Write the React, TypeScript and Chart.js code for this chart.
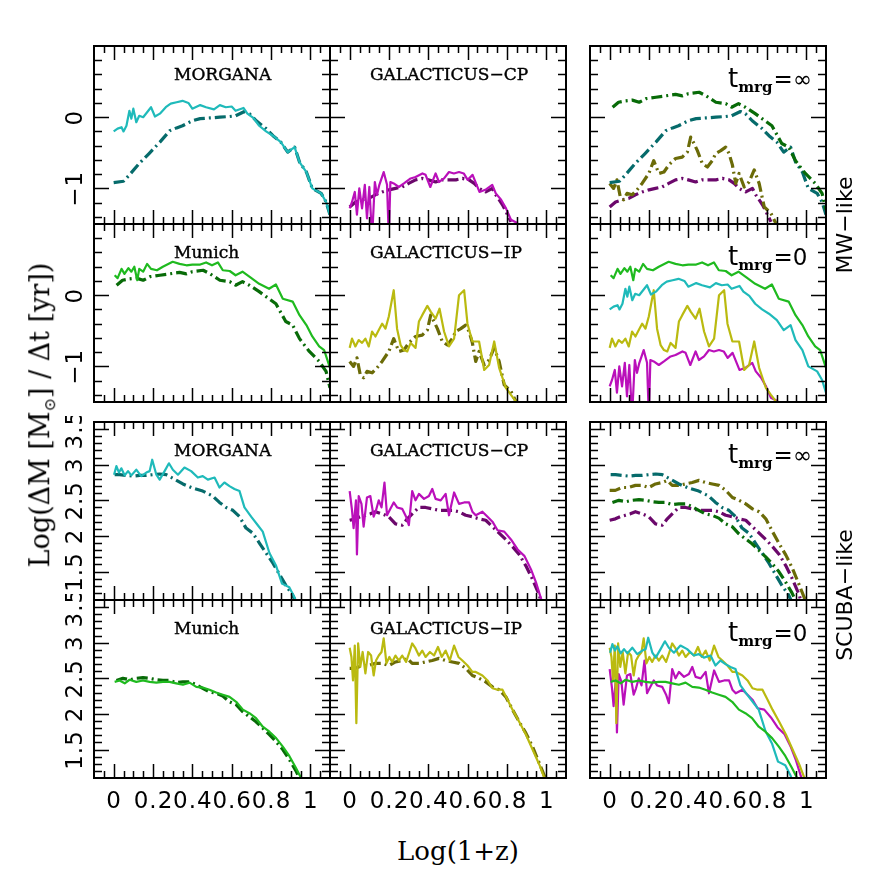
import React, { useEffect, useRef } from 'react';
import { Chart, registerables } from 'chart.js';
Chart.register(...registerables);

type P = [number, number];

// ---------- axis ranges & tick labels ----------
const X_RANGE: P = [-0.1, 1.1];
const MW_RANGE: P = [-1.5, 1];
const SC_RANGE: P = [1.1, 3.6];
const xTickValues = [0, 0.2, 0.4, 0.6, 0.8, 1];
const xTickLabels = ['0', '0.2', '0.4', '0.6', '0.8', '1'];
const mwTickValues = [-1, 0];
const mwTickLabels = ['\u22121', '0'];
const scTickValues = [1.5, 2, 2.5, 3, 3.5];
const scTickLabels = ['1.5', '2', '2.5', '3', '3.5'];

// ---------- MW-like series ----------
const mwMorgana0: P[] = [[0,-0.20],[0.02,-0.16],[0.04,-0.14],[0.05,-0.20],[0.065,-0.12],[0.08,0.09],[0.09,-0.02],[0.10,0.12],[0.115,-0.07],[0.13,0.02],[0.15,0.0],[0.17,0.07],[0.19,0.14],[0.21,0.01],[0.235,0.05],[0.265,0.14],[0.29,0.19],[0.32,0.21],[0.35,0.23],[0.38,0.20],[0.40,0.12],[0.44,0.17],[0.47,0.14],[0.51,0.11],[0.54,0.17],[0.57,0.14],[0.60,0.15],[0.62,0.09],[0.66,0.13],[0.68,0.05],[0.71,-0.01],[0.74,-0.12],[0.775,-0.20],[0.81,-0.26],[0.85,-0.35],[0.885,-0.49],[0.92,-0.42],[0.945,-0.63],[0.98,-0.77],[1.01,-1.0],[1.055,-1.07],[1.08,-1.19],[1.1,-1.37]];
const mwMorganaInf: P[] = [[0,-0.92],[0.05,-0.90],[0.08,-0.81],[0.13,-0.65],[0.18,-0.51],[0.235,-0.35],[0.285,-0.19],[0.32,-0.15],[0.35,-0.12],[0.40,-0.05],[0.44,-0.02],[0.49,-0.01],[0.54,0.0],[0.59,0.01],[0.62,0.02],[0.665,0.08],[0.69,0.05],[0.725,-0.05],[0.775,-0.16],[0.81,-0.26],[0.85,-0.35],[0.885,-0.49],[0.92,-0.42],[0.945,-0.63],[0.98,-0.77],[1.01,-1.0],[1.055,-1.07],[1.08,-1.19],[1.1,-1.37]];
const mwMunich0: P[] = [[0.005,0.28],[0.02,0.24],[0.04,0.37],[0.055,0.30],[0.075,0.38],[0.09,0.33],[0.105,0.40],[0.12,0.21],[0.13,0.37],[0.15,0.33],[0.17,0.44],[0.19,0.37],[0.22,0.35],[0.25,0.40],[0.30,0.47],[0.335,0.44],[0.37,0.42],[0.40,0.43],[0.44,0.43],[0.47,0.46],[0.50,0.42],[0.53,0.46],[0.555,0.35],[0.59,0.34],[0.62,0.28],[0.655,0.33],[0.69,0.26],[0.74,0.16],[0.79,0.09],[0.825,0.15],[0.86,-0.05],[0.91,-0.09],[0.945,-0.28],[0.98,-0.42],[1.01,-0.58],[1.045,-0.72],[1.07,-0.77],[1.1,-1.02]];
const mwMunichInf: P[] = [[0.015,0.14],[0.045,0.21],[0.08,0.23],[0.115,0.24],[0.15,0.21],[0.185,0.26],[0.235,0.28],[0.285,0.30],[0.335,0.32],[0.37,0.30],[0.40,0.33],[0.455,0.35],[0.49,0.30],[0.54,0.21],[0.59,0.19],[0.62,0.14],[0.655,0.19],[0.69,0.14],[0.74,0.05],[0.79,-0.05],[0.825,-0.12],[0.875,-0.37],[0.91,-0.42],[0.945,-0.61],[0.995,-0.79],[1.045,-0.93],[1.08,-1.07],[1.1,-1.30]];
const mwGalcp0: P[] = [[0,-1.28],[0.012,-1.19],[0.026,-1.05],[0.037,-1.37],[0.049,-1.0],[0.063,-1.28],[0.077,-0.95],[0.088,-1.42],[0.10,-0.98],[0.114,-1.7],[0.128,-0.91],[0.139,-1.09],[0.151,-0.95],[0.173,-0.77],[0.19,-0.95],[0.199,-1.7],[0.207,-0.91],[0.224,-0.93],[0.25,-0.98],[0.276,-0.93],[0.31,-0.86],[0.335,-0.84],[0.37,-0.79],[0.386,-0.81],[0.41,-0.98],[0.437,-0.79],[0.454,-0.91],[0.48,-0.86],[0.505,-0.77],[0.53,-0.79],[0.556,-0.77],[0.58,-0.79],[0.60,-0.88],[0.625,-0.81],[0.66,-1.05],[0.69,-1.02],[0.725,-0.95],[0.743,-1.07],[0.77,-1.16],[0.795,-1.28],[0.82,-1.44],[0.855,-1.49]];
const mwGalcpInf: P[] = [[0,-1.26],[0.03,-1.19],[0.063,-1.16],[0.097,-1.14],[0.131,-1.09],[0.165,-1.05],[0.2,-1.02],[0.233,-1.0],[0.267,-0.98],[0.30,-0.93],[0.335,-0.88],[0.37,-0.86],[0.40,-0.88],[0.437,-0.91],[0.47,-0.88],[0.505,-0.88],[0.54,-0.88],[0.573,-0.86],[0.607,-0.88],[0.633,-0.93],[0.658,-1.0],[0.692,-1.05],[0.726,-1.0],[0.743,-1.09],[0.777,-1.23],[0.803,-1.37],[0.82,-1.47]];
const mwGalip0: P[] = [[0,-0.74],[0.012,-0.61],[0.029,-0.72],[0.046,-0.63],[0.063,-0.67],[0.08,-0.61],[0.097,-0.72],[0.114,-0.51],[0.131,-0.58],[0.148,-0.49],[0.165,-0.40],[0.182,-0.47],[0.199,-0.30],[0.224,0.07],[0.241,-0.47],[0.259,-0.70],[0.276,-0.77],[0.293,-0.79],[0.31,-0.67],[0.335,-0.74],[0.352,-0.37],[0.369,-0.28],[0.395,-0.15],[0.412,-0.23],[0.437,-0.33],[0.457,-0.19],[0.48,-0.51],[0.505,-0.72],[0.531,-0.61],[0.556,0.0],[0.582,0.07],[0.599,-0.40],[0.624,-0.65],[0.658,-0.65],[0.684,-1.05],[0.709,-0.98],[0.735,-0.65],[0.76,-1.02],[0.794,-1.30],[0.82,-1.40],[0.845,-1.49]];
const mwGalipInf: P[] = [[0,-0.93],[0.02,-1.0],[0.037,-0.88],[0.054,-1.12],[0.071,-1.16],[0.088,-1.07],[0.114,-1.09],[0.139,-1.02],[0.165,-0.93],[0.199,-0.79],[0.224,-0.61],[0.25,-0.79],[0.276,-0.77],[0.301,-0.67],[0.335,-0.58],[0.369,-0.56],[0.395,-0.49],[0.412,-0.28],[0.429,-0.37],[0.446,-0.47],[0.471,-0.65],[0.497,-0.70],[0.522,-0.61],[0.539,-0.51],[0.565,-0.47],[0.59,-0.42],[0.607,-0.51],[0.624,-0.67],[0.641,-0.93],[0.658,-0.79],[0.684,-0.98],[0.709,-0.91],[0.735,-0.74],[0.76,-0.93],[0.786,-1.26],[0.82,-1.35],[0.845,-1.49]];

// ---------- SCUBA-like series ----------
const scMorgana0: P[] = [[0.002,2.86],[0.014,2.98],[0.027,2.89],[0.039,2.95],[0.056,2.85],[0.073,2.91],[0.09,2.85],[0.115,2.93],[0.14,2.84],[0.166,2.89],[0.183,2.91],[0.196,3.07],[0.217,2.86],[0.234,2.79],[0.259,2.91],[0.281,3.02],[0.301,2.93],[0.327,2.86],[0.36,2.96],[0.394,2.91],[0.428,2.82],[0.453,2.84],[0.479,2.79],[0.513,2.82],[0.538,2.68],[0.563,2.75],[0.589,2.70],[0.614,2.66],[0.64,2.63],[0.665,2.40],[0.699,2.27],[0.733,2.15],[0.758,2.06],[0.792,1.76],[0.826,1.58],[0.856,1.33],[0.893,1.28],[0.919,1.14],[0.93,1.05]];
const scMorganaInf: P[] = [[0.005,2.86],[0.03,2.86],[0.064,2.85],[0.098,2.84],[0.132,2.85],[0.166,2.85],[0.2,2.86],[0.234,2.87],[0.267,2.86],[0.301,2.81],[0.352,2.73],[0.403,2.67],[0.453,2.63],[0.504,2.56],[0.538,2.47],[0.572,2.40],[0.606,2.36],[0.64,2.27],[0.673,2.11],[0.707,2.04],[0.741,1.90],[0.775,1.76],[0.809,1.62],[0.843,1.46],[0.877,1.30],[0.91,1.17],[0.93,1.05]];
const scMunich0: P[] = [[0.005,2.45],[0.03,2.47],[0.056,2.43],[0.081,2.48],[0.115,2.45],[0.149,2.47],[0.183,2.45],[0.217,2.44],[0.25,2.45],[0.284,2.45],[0.318,2.43],[0.352,2.41],[0.386,2.44],[0.42,2.38],[0.453,2.37],[0.487,2.34],[0.521,2.30],[0.555,2.27],[0.589,2.24],[0.623,2.17],[0.657,2.06],[0.69,2.01],[0.724,1.94],[0.758,1.82],[0.792,1.75],[0.826,1.66],[0.86,1.54],[0.893,1.41],[0.927,1.24],[0.953,1.10],[0.96,1.05]];
const scMunichInf: P[] = [[0.014,2.47],[0.047,2.50],[0.081,2.48],[0.115,2.50],[0.149,2.51],[0.183,2.50],[0.217,2.48],[0.25,2.47],[0.284,2.47],[0.318,2.44],[0.352,2.45],[0.386,2.45],[0.42,2.41],[0.453,2.36],[0.487,2.31],[0.521,2.29],[0.555,2.25],[0.589,2.17],[0.623,2.13],[0.657,2.03],[0.69,1.96],[0.724,1.89],[0.758,1.80],[0.792,1.71],[0.826,1.61],[0.86,1.50],[0.893,1.36],[0.927,1.20],[0.944,1.10],[0.95,1.05]];
const scGalcp0: P[] = [[0,2.63],[0.012,2.36],[0.02,2.11],[0.032,2.50],[0.037,1.74],[0.046,2.56],[0.06,2.45],[0.071,2.13],[0.088,2.54],[0.105,2.56],[0.122,2.27],[0.134,2.36],[0.148,2.50],[0.162,2.40],[0.177,2.75],[0.19,2.29],[0.207,2.38],[0.224,2.47],[0.241,2.40],[0.267,2.38],[0.287,2.27],[0.301,2.15],[0.318,2.63],[0.335,2.50],[0.352,2.59],[0.378,2.52],[0.403,2.56],[0.42,2.66],[0.437,2.52],[0.463,2.50],[0.488,2.59],[0.505,2.29],[0.531,2.61],[0.556,2.45],[0.582,2.47],[0.607,2.47],[0.624,2.34],[0.641,2.29],[0.675,2.34],[0.701,2.27],[0.726,2.20],[0.752,2.08],[0.786,2.06],[0.82,1.95],[0.854,1.81],[0.888,1.72],[0.922,1.53],[0.947,1.35],[0.973,1.12],[0.98,1.05]];
const scGalcpInf: P[] = [[0,2.22],[0.029,2.24],[0.054,2.27],[0.08,2.29],[0.105,2.31],[0.131,2.34],[0.165,2.31],[0.199,2.27],[0.233,2.17],[0.267,2.15],[0.293,2.24],[0.318,2.31],[0.352,2.40],[0.386,2.40],[0.42,2.38],[0.454,2.36],[0.488,2.36],[0.522,2.36],[0.556,2.34],[0.59,2.29],[0.624,2.27],[0.658,2.24],[0.692,2.22],[0.726,2.13],[0.76,2.04],[0.794,1.95],[0.828,1.85],[0.862,1.74],[0.896,1.58],[0.93,1.39],[0.964,1.17],[0.975,1.05]];
const scGalip0: P[] = [[0,2.93],[0.009,2.80],[0.017,2.47],[0.026,2.96],[0.034,1.87],[0.043,2.99],[0.054,2.66],[0.066,2.87],[0.08,2.57],[0.094,2.87],[0.109,2.82],[0.122,2.54],[0.134,2.75],[0.148,2.82],[0.162,2.87],[0.173,3.06],[0.187,2.71],[0.202,2.80],[0.216,2.73],[0.233,2.82],[0.25,2.75],[0.267,2.82],[0.287,2.73],[0.304,2.87],[0.318,2.99],[0.335,2.92],[0.352,2.82],[0.369,2.89],[0.386,2.80],[0.408,2.87],[0.429,2.82],[0.449,2.94],[0.468,2.80],[0.488,2.89],[0.509,2.75],[0.531,2.96],[0.553,2.80],[0.573,2.75],[0.599,2.68],[0.624,2.59],[0.641,2.59],[0.675,2.54],[0.701,2.47],[0.726,2.36],[0.752,2.34],[0.777,2.34],[0.803,2.20],[0.828,2.06],[0.862,1.89],[0.896,1.71],[0.93,1.50],[0.964,1.29],[0.99,1.10],[0.995,1.05]];
const scGalipInf: P[] = [[0,2.64],[0.029,2.64],[0.063,2.68],[0.097,2.68],[0.131,2.71],[0.165,2.71],[0.199,2.68],[0.233,2.73],[0.267,2.75],[0.293,2.78],[0.318,2.71],[0.352,2.71],[0.386,2.73],[0.42,2.75],[0.454,2.78],[0.488,2.75],[0.522,2.73],[0.556,2.71],[0.59,2.64],[0.624,2.54],[0.658,2.50],[0.692,2.45],[0.726,2.38],[0.76,2.34],[0.794,2.24],[0.828,2.06],[0.862,1.89],[0.896,1.73],[0.93,1.54],[0.964,1.31],[0.99,1.13],[0.995,1.05]];

// ---------- colours ----------
const COL = {
  cyan: '#1fbaba', teal: '#066b6b',
  green: '#1fba1f', dgreen: '#086b08',
  magenta: '#ba10ba', purple: '#6b086b',
  yellow: '#baba10', olive: '#6b6b08',
};

type S = { data: P[]; color: string; dash: boolean };
const solid = (data: P[], color: string): S => ({ data, color, dash: false });
const dashd = (data: P[], color: string): S => ({ data, color, dash: true });

type Title = { kind: 'text'; text: string; dx: number; dy: number } | { kind: 'tmrg'; sym: string; dx: number; dy: number };

type Spec = { row: number; col: number; series: S[]; title: Title };

const specs: Spec[] = [
  { row: 0, col: 0, title: { kind: 'text', text: 'MORGANA', dx: 80, dy: 34 }, series: [solid(mwMorgana0, COL.cyan), dashd(mwMorganaInf, COL.teal)] },
  { row: 0, col: 1, title: { kind: 'text', text: 'GALACTICUS\u2212CP', dx: 40, dy: 34 }, series: [solid(mwGalcp0, COL.magenta), dashd(mwGalcpInf, COL.purple)] },
  { row: 0, col: 2, title: { kind: 'tmrg', sym: '\u221e', dx: 138, dy: 41 }, series: [dashd(mwMunichInf, COL.dgreen), dashd(mwMorganaInf, COL.teal), dashd(mwGalipInf, COL.olive), dashd(mwGalcpInf, COL.purple)] },
  { row: 1, col: 0, title: { kind: 'text', text: 'Munich', dx: 80, dy: 34 }, series: [solid(mwMunich0, COL.green), dashd(mwMunichInf, COL.dgreen)] },
  { row: 1, col: 1, title: { kind: 'text', text: 'GALACTICUS\u2212IP', dx: 40, dy: 34 }, series: [solid(mwGalip0, COL.yellow), dashd(mwGalipInf, COL.olive)] },
  { row: 1, col: 2, title: { kind: 'tmrg', sym: '0', dx: 138, dy: 41 }, series: [solid(mwMunich0, COL.green), solid(mwMorgana0, COL.cyan), solid(mwGalip0, COL.yellow), solid(mwGalcp0, COL.magenta)] },
  { row: 2, col: 0, title: { kind: 'text', text: 'MORGANA', dx: 80, dy: 34 }, series: [solid(scMorgana0, COL.cyan), dashd(scMorganaInf, COL.teal)] },
  { row: 2, col: 1, title: { kind: 'text', text: 'GALACTICUS\u2212CP', dx: 40, dy: 34 }, series: [solid(scGalcp0, COL.magenta), dashd(scGalcpInf, COL.purple)] },
  { row: 2, col: 2, title: { kind: 'tmrg', sym: '\u221e', dx: 138, dy: 41 }, series: [dashd(scMunichInf, COL.dgreen), dashd(scMorganaInf, COL.teal), dashd(scGalipInf, COL.olive), dashd(scGalcpInf, COL.purple)] },
  { row: 3, col: 0, title: { kind: 'text', text: 'Munich', dx: 80, dy: 34 }, series: [solid(scMunich0, COL.green), dashd(scMunichInf, COL.dgreen)] },
  { row: 3, col: 1, title: { kind: 'text', text: 'GALACTICUS\u2212IP', dx: 40, dy: 34 }, series: [solid(scGalip0, COL.yellow), dashd(scGalipInf, COL.olive)] },
  { row: 3, col: 2, title: { kind: 'tmrg', sym: '0', dx: 138, dy: 41 }, series: [solid(scMunich0, COL.green), solid(scMorgana0, COL.cyan), solid(scGalip0, COL.yellow), solid(scGalcp0, COL.magenta)] },
];

// ---------- layout ----------
const COL_LEFT = [94, 330, 590];
const ROW_TOP = [46, 224, 422, 600];
const PW = 236;
const PH = 178;

const decorPlugin = {
  id: 'panelDecor',
  afterDraw(chart: any) {
    const o = chart.options.plugins.panelDecor;
    const { ctx, chartArea: a } = chart;
    const xs = chart.scales.x;
    const ys = chart.scales.y;
    ctx.save();
    ctx.strokeStyle = '#000';
    ctx.fillStyle = '#000';
    ctx.lineWidth = 1.5;
    ctx.beginPath();
    // x ticks every 0.05, major every 0.2
    for (let k = -3; k <= 23; k++) {
      const v = k * 0.05;
      if (v <= xs.min + 1e-6 || v >= xs.max - 1e-6) continue;
      const px = Math.round(xs.getPixelForValue(v)) + 0.5;
      const len = k % 4 === 0 ? 14 : 7;
      ctx.moveTo(px, a.bottom); ctx.lineTo(px, a.bottom - len);
      ctx.moveTo(px, a.top); ctx.lineTo(px, a.top + len);
    }
    // y ticks
    const step = o.scuba ? 0.1 : 0.2;
    const per = 5;
    for (let k = -20; k <= 40; k++) {
      const v = k * step;
      if (v <= ys.min + 1e-6 || v >= ys.max - 1e-6) continue;
      const py = Math.round(ys.getPixelForValue(v)) + 0.5;
      const len = k % per === 0 ? 15 : 8;
      ctx.moveTo(a.left, py); ctx.lineTo(a.left + len, py);
      ctx.moveTo(a.right, py); ctx.lineTo(a.right - len, py);
    }
    ctx.stroke();
    ctx.lineWidth = 2;
    ctx.strokeRect(a.left, a.top, a.right - a.left, a.bottom - a.top);

    // x tick labels
    if (o.xLabels) {
      ctx.font = '23px "DejaVu Sans"';
      ctx.letterSpacing = '1px';
      ctx.textAlign = 'center';
      ctx.textBaseline = 'alphabetic';
      xTickValues.forEach((v, i) => {
        ctx.fillText(xTickLabels[i], xs.getPixelForValue(v) + 0.5, a.bottom + 30);
      });
    }
    // y tick labels (rotated)
    if (o.yLabels) {
      const vals = o.scuba ? scTickValues : mwTickValues;
      const labs = o.scuba ? scTickLabels : mwTickLabels;
      ctx.font = '23px "DejaVu Sans"';
      ctx.letterSpacing = '1px';
      ctx.textAlign = 'center';
      ctx.textBaseline = 'alphabetic';
      vals.forEach((v: number, i: number) => {
        const py = ys.getPixelForValue(v);
        ctx.save();
        ctx.translate(a.left - 12, py + 0.5);
        ctx.rotate(-Math.PI / 2);
        ctx.fillText(labs[i], 0, 0);
        ctx.restore();
      });
    }
    ctx.letterSpacing = '0px';
    // title
    const t = o.title as Title;
    ctx.textAlign = 'left';
    ctx.textBaseline = 'alphabetic';
    if (t.kind === 'text') {
      ctx.font = '17px "DejaVu Serif"';
      ctx.lineWidth = 0.4;
      ctx.fillText(t.text, a.left + t.dx, a.top + t.dy);
      ctx.strokeText(t.text, a.left + t.dx, a.top + t.dy);
    } else {
      let x = a.left + t.dx;
      const y = a.top + t.dy;
      ctx.font = '26px "DejaVu Sans"';
      ctx.fillText('t', x, y);
      x += ctx.measureText('t').width;
      ctx.font = 'bold 15px "DejaVu Serif"';
      ctx.fillText('mrg', x, y + 5);
      x += ctx.measureText('mrg').width + 1;
      ctx.font = '23px "DejaVu Sans"';
      ctx.fillText('=' + t.sym, x, y);
    }
    ctx.restore();
  },
};

function Panel({ spec }: { spec: Spec }) {
  const ref = useRef<HTMLCanvasElement>(null);
  const padL = spec.col === 0 ? 60 : 6;
  const padR = 6;
  const padT = 6;
  const padB = spec.row === 3 ? 50 : 6;
  const W = PW + padL + padR;
  const H = PH + padT + padB;
  const scuba = spec.row >= 2;
  useEffect(() => {
    const range = scuba ? SC_RANGE : MW_RANGE;
    const chart = new Chart(ref.current as HTMLCanvasElement, {
      type: 'line',
      data: {
        datasets: spec.series.map((s) => ({
          data: s.data.map(([x, y]) => ({ x, y })),
          borderColor: s.color,
          borderWidth: s.dash ? 3.2 : 2.2,
          borderDash: s.dash ? [11, 4, 2, 4] : [],
          pointRadius: 0,
          tension: 0,
          fill: false,
          borderJoinStyle: 'round' as const,
        })),
      },
      options: {
        responsive: false,
        animation: false,
        layout: { padding: { left: padL, right: padR, top: padT, bottom: padB } },
        scales: {
          x: { type: 'linear', min: X_RANGE[0], max: X_RANGE[1], display: false },
          y: { type: 'linear', min: range[0], max: range[1], display: false },
        },
        plugins: {
          legend: { display: false },
          tooltip: { enabled: false },
          panelDecor: { scuba, xLabels: spec.row === 3, yLabels: spec.col === 0, title: spec.title },
        } as any,
      },
      plugins: [decorPlugin],
    });
    return () => chart.destroy();
  }, []);
  return (
    <canvas
      ref={ref}
      width={W}
      height={H}
      style={{ position: 'absolute', left: COL_LEFT[spec.col] - padL, top: ROW_TOP[spec.row] - padT, width: W, height: H }}
    />
  );
}

const rot: React.CSSProperties = { position: 'absolute', transform: 'translate(-50%, -50%) rotate(-90deg)', whiteSpace: 'nowrap', lineHeight: 1.2, color: '#000' };

export default function App() {
  return (
    <div style={{ position: 'absolute', left: 0, top: 0, width: 872, height: 872, background: '#fff' }}>
      {specs.map((s, i) => (
        <Panel key={i} spec={s} />
      ))}
      <div style={{ ...rot, left: 42, top: 415, fontFamily: '"DejaVu Serif"', fontSize: 27 }}>
        Log(ΔM [M<sub style={{ fontSize: 16 }}>⊙</sub>] / Δt [yr])
      </div>
      <div style={{ position: 'absolute', left: 458, top: 852, transform: 'translate(-50%, -50%)', whiteSpace: 'nowrap', fontFamily: '"DejaVu Serif"', fontSize: 26, lineHeight: 1.2 }}>
        Log(1+z)
      </div>
      <div style={{ ...rot, left: 845, top: 225, fontFamily: '"DejaVu Sans"', fontSize: 22 }}>MW−like</div>
      <div style={{ ...rot, left: 845, top: 595, fontFamily: '"DejaVu Sans"', fontSize: 22 }}>SCUBA−like</div>
    </div>
  );
}
